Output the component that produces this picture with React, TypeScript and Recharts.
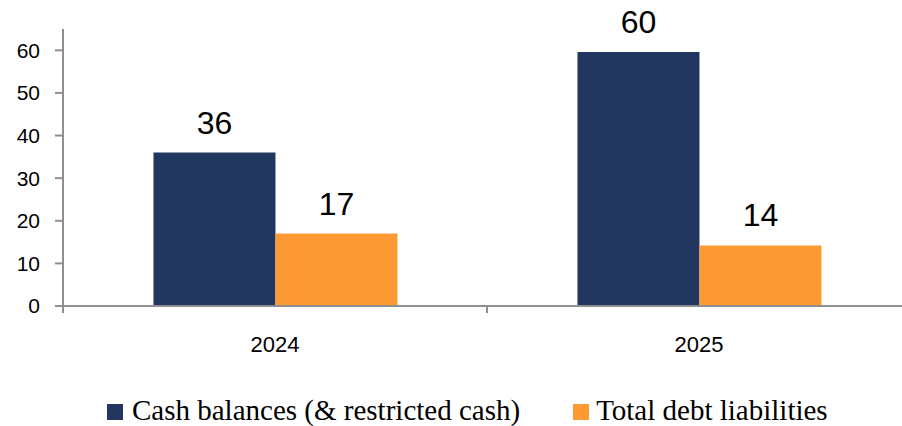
import React from 'react';
import { BarChart, Bar, XAxis, YAxis, LabelList } from 'recharts';

const categories = ['2024', '2025'];
const cashValues = [36, 59.6];
const debtValues = [17, 14.2];
const yTicks = [0, 10, 20, 30, 40, 50, 60];
const seriesNames = ['Cash balances (& restricted cash)', 'Total debt liabilities'];
const seriesColors = ['#213760', '#FE9A34'];

const data = categories.map((c, i) => ({ year: c, cash: cashValues[i], debt: debtValues[i] }));

const AXIS = '#8f8f8f';
const SANS = '"Liberation Sans", Arial, sans-serif';
const SERIF = '"Liberation Serif", "Times New Roman", serif';

const XTick = (props: any) => {
  const { x, y, payload, index, visibleTicksCount } = props;
  const half = payload && payload.offset ? payload.offset : 0;
  const isLast = index === (visibleTicksCount ?? categories.length) - 1;
  return (
    <g>
      <line x1={x - half} x2={x - half} y1={y} y2={y + 7} stroke={AXIS} strokeWidth={2} />
      {isLast && <line x1={x + half} x2={x + half} y1={y} y2={y + 7} stroke={AXIS} strokeWidth={2} />}
      <text x={x} y={y + 46} textAnchor="middle" fontSize={22} fill="#000" fontFamily={SANS}>
        {payload.value}
      </text>
    </g>
  );
};

export default function App() {
  return (
    <div style={{ position: 'absolute', left: 0, top: 0, width: 902, height: 426, overflow: 'hidden', background: '#fff' }}>
      <BarChart
        width={930}
        height={426}
        data={data}
        margin={{ top: 29, right: 19, left: 0, bottom: 0 }}
        barCategoryGap="21.34%"
        barGap={0}
      >
        <XAxis
          dataKey="year"
          height={120}
          axisLine={{ stroke: AXIS, strokeWidth: 2 }}
          tickLine={false}
          tickSize={0}
          tickMargin={0}
          tick={<XTick />}
          interval={0}
        />
        <YAxis
          width={63}
          domain={[0, 65]}
          ticks={yTicks}
          allowDataOverflow
          axisLine={{ stroke: AXIS, strokeWidth: 2 }}
          tickLine={{ stroke: AXIS, strokeWidth: 2 }}
          tickSize={8}
          tickMargin={15}
          tick={{ fontSize: 21, fill: '#000', fontFamily: SANS }}
        />
        <Bar dataKey="cash" name={seriesNames[0]} fill={seriesColors[0]} isAnimationActive={false}>
          <LabelList
            dataKey="cash"
            position="top"
            offset={19}
            formatter={(v: any) => Math.round(Number(v))}
            style={{ fontSize: 32, fill: '#000', fontFamily: SANS }}
          />
        </Bar>
        <Bar dataKey="debt" name={seriesNames[1]} fill={seriesColors[1]} isAnimationActive={false}>
          <LabelList
            dataKey="debt"
            position="top"
            offset={19}
            formatter={(v: any) => Math.round(Number(v))}
            style={{ fontSize: 32, fill: '#000', fontFamily: SANS }}
          />
        </Bar>
      </BarChart>
      <div
        style={{
          position: 'absolute',
          left: 107,
          top: 396,
          height: 29,
          display: 'flex',
          alignItems: 'flex-start',
          fontFamily: SERIF,
          fontSize: 29,
          lineHeight: '29px',
          color: '#000',
          whiteSpace: 'nowrap',
        }}
      >
        {seriesNames.map((n, i) => (
          <div key={n} style={{ display: 'flex', alignItems: 'flex-start', marginLeft: i === 0 ? 0 : 53 }}>
            <span style={{ display: 'inline-block', width: 16, height: 16, marginTop: 8, marginRight: i === 0 ? 9 : 7, background: seriesColors[i] }} />
            <span>{n}</span>
          </div>
        ))}
      </div>
    </div>
  );
}
